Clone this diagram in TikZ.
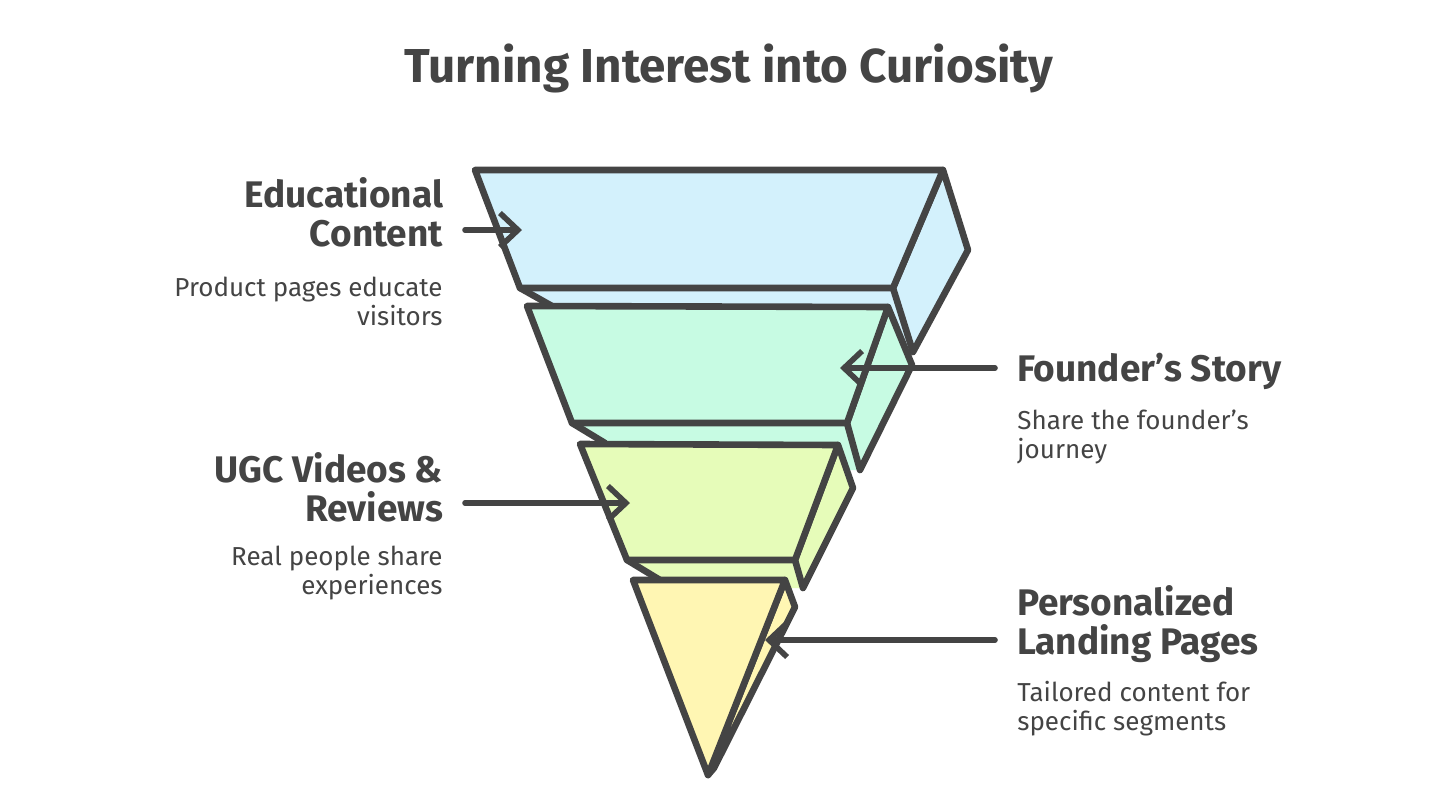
\documentclass[tikz,border=0pt]{standalone}
\usepackage{fontspec}
\setmainfont{Fira Sans}
\usetikzlibrary{arrows.meta,positioning}

\definecolor{ink}{HTML}{444444}
\definecolor{skyfill}{HTML}{D3F1FC}
\definecolor{mintfill}{HTML}{C7FBE3}
\definecolor{limefill}{HTML}{E6FCB9}
\definecolor{lemonfill}{HTML}{FFF6B3}

\tikzset{
  edge/.style={draw=ink, line width=3.3pt},
  pointer/.style={draw=ink, line width=2.8pt,
    -{Straight Barb[length=9pt, width=17pt]}},
  headL/.style={text=ink, font=\bfseries\fontsize{18.5}{19.5}\selectfont,
    align=right, anchor=east, inner sep=0pt, outer xsep=11pt},
  headR/.style={headL, align=left, anchor=west},
  noteL/.style={text=ink, font=\fontsize{13}{14.5}\selectfont,
    align=right, anchor=east, inner sep=0pt},
  noteR/.style={noteL, align=left, anchor=west}
}

\begin{document}
\begin{tikzpicture}[x=0.5pt, y=-0.5pt, line join=round, line cap=round]
  \useasboundingbox (0,0) rectangle (1440,810);

  \node[text=ink, font=\bfseries\fontsize{23.8}{28}\selectfont] (title) at (729,68)
    {Turning Interest into Curiosity};

  % top slab
  \fill[skyfill] (520,288) -- (552,306) -- (600,352) -- (913,352) -- (893,288) -- cycle;
  \draw[edge] (520,288) -- (552,306);
  \filldraw[edge, fill=skyfill] (943,170) -- (968,250) -- (913,352) -- (893,288) -- cycle;
  \filldraw[edge, fill=skyfill] (475,170) -- (943,170) -- (893,288) -- (520,288) -- cycle;

  % second slab
  \fill[mintfill] (572,423) -- (605,443) -- (640,470) -- (860,470) -- (847,423) -- cycle;
  \draw[edge] (572,423) -- (605,443);
  \filldraw[edge, fill=mintfill] (888,307) -- (912,365) -- (860,470) -- (847,423) -- cycle;
  \filldraw[edge, fill=mintfill] (527,306) -- (888,307) -- (847,423) -- (572,423) -- cycle;

  % third slab
  \fill[limefill] (627,560) -- (660,580) -- (690,588) -- (803,588) -- (795,560) -- cycle;
  \draw[edge] (627,560) -- (660,580);
  \filldraw[edge, fill=limefill] (838,445) -- (853,488) -- (803,588) -- (795,560) -- cycle;
  \filldraw[edge, fill=limefill] (580,444) -- (838,445) -- (795,560) -- (627,560) -- cycle;

  % tip
  \filldraw[edge, fill=lemonfill] (785,580) -- (795,607) -- (714,768) -- (708,775) -- cycle;
  \filldraw[edge, fill=lemonfill] (633,580) -- (785,580) -- (708,775) -- cycle;

  % labels
  \node[headL] (eduHead) at (465,212) {Educational\\Content};
  \node[noteL] (eduNote) at (443,301) {Product pages educate\\visitors};
  \node[headR] (founderHead) at (995,371) {Founder's Story};
  \node[noteR] (founderNote) at (1017,437) {Share the founder's\\journey};
  \node[headL] (ugcHead) at (465,487) {UGC Videos \&\\Reviews};
  \node[noteL] (ugcNote) at (443,573) {Real people share\\experiences};
  \node[headR] (landHead) at (995,624) {Personalized\\Landing Pages};
  \node[noteR] (landNote) at (1017,709) {Tailored content for\\specific segments};

  \coordinate (eduTip) at (522,230);
  \coordinate (founderTip) at (840,368);
  \coordinate (ugcTip) at (630,503);
  \coordinate (landTip) at (765,640);

  \draw[pointer] (eduHead.east |- eduTip) -- (eduTip);
  \draw[pointer] (founderHead.west |- founderTip) -- (founderTip);
  \draw[pointer] (ugcHead.east |- ugcTip) -- (ugcTip);
  \draw[pointer] (landHead.west |- landTip) -- (landTip);
\end{tikzpicture}
\end{document}
